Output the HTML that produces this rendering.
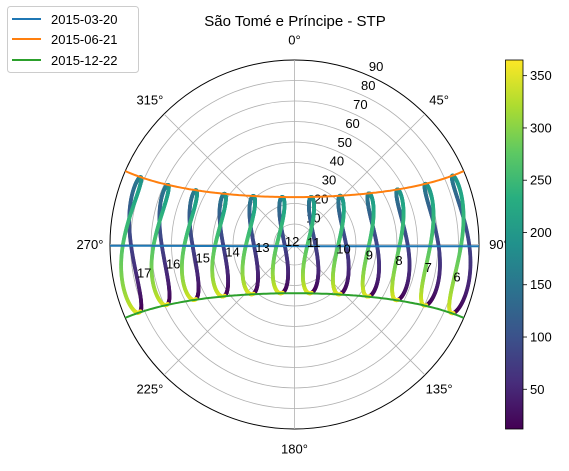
<!DOCTYPE html>
<html><head><meta charset="utf-8"><style>
body{margin:0;background:#fff;}
svg text{font-family:"Liberation Sans","DejaVu Sans",sans-serif;}
</style></head><body>
<svg id="chart" width="569" height="466" viewBox="0 0 569 466">
<defs>
<linearGradient id="vir" x1="0" y1="1" x2="0" y2="0">
<stop offset="0" stop-color="#440154"/><stop offset="0.125" stop-color="#472d7b"/><stop offset="0.25" stop-color="#3b528b"/><stop offset="0.375" stop-color="#2c728e"/><stop offset="0.5" stop-color="#21918c"/><stop offset="0.625" stop-color="#28ae80"/><stop offset="0.75" stop-color="#5ec962"/><stop offset="0.875" stop-color="#addc30"/><stop offset="1" stop-color="#fde725"/>
</linearGradient>
<clipPath id="pc"><circle cx="294.5" cy="244.5" r="184.5"/></clipPath>
</defs>
<text x="295" y="26" font-size="15" text-anchor="middle">São Tomé e Príncipe - STP</text>
<g id="grid"></g>
<g id="marks" clip-path="url(#pc)"></g>
<g id="labels"></g>
<g id="cbar"></g>
<g>
<rect x="7.5" y="6.5" width="131" height="66" rx="3" fill="#fff" stroke="#ccc"/>
<line x1="12" y1="19" x2="41" y2="19" stroke="#1f77b4" stroke-width="2"/>
<text x="51" y="24" font-size="13">2015-03-20</text>
<line x1="12" y1="39" x2="41" y2="39" stroke="#ff7f0e" stroke-width="2"/>
<text x="51" y="44" font-size="13">2015-06-21</text>
<line x1="12" y1="60" x2="41" y2="60" stroke="#2ca02c" stroke-width="2"/>
<text x="51" y="65" font-size="13">2015-12-22</text>
</g>
</svg>
<script>
const LAT = 0.336, LON = 6.727;
const hours = [5,6,7,8,9,10,11,12,13,14,15,16,17,18,19];
const pathDays = [79, 172, 356];
const pathColors = ['#1f77b4','#ff7f0e','#2ca02c'];
const radialTicks = [10,20,30,40,50,60,70,80,90];
const angleTicks = [0,45,90,135,180,225,270,315];
const cbarTicks = [50,100,150,200,250,300,350];
const cMin = 12, cMax = 365;

const NS='http://www.w3.org/2000/svg';
const CX=294.5, CY=244.5, R=184.5, RMAX=90;
function el(t,a,p){const e=document.createElementNS(NS,t);for(const k in a)e.setAttribute(k,a[k]);p.appendChild(e);return e;}
function xy(az,zen){const r=zen/RMAX*R,a=az*Math.PI/180;return [CX+r*Math.sin(a),CY-r*Math.cos(a)];}
function solpos(doy,minutes){
  const g=2*Math.PI/365*(doy-1+(minutes/60-12)/24);
  const eq=229.18*(0.000075+0.001868*Math.cos(g)-0.032077*Math.sin(g)-0.014615*Math.cos(2*g)-0.040849*Math.sin(2*g));
  const d=0.006918-0.399912*Math.cos(g)+0.070257*Math.sin(g)-0.006758*Math.cos(2*g)+0.000907*Math.sin(2*g)-0.002697*Math.cos(3*g)+0.00148*Math.sin(3*g);
  const tst=minutes+eq+4*LON;
  const ha=(tst/4-180)*Math.PI/180, lat=LAT*Math.PI/180;
  const cz=Math.sin(lat)*Math.sin(d)+Math.cos(lat)*Math.cos(d)*Math.cos(ha);
  const zen=Math.acos(Math.max(-1,Math.min(1,cz)))*180/Math.PI;
  let az=Math.atan2(Math.sin(ha),Math.cos(ha)*Math.sin(lat)-Math.tan(d)*Math.cos(lat))*180/Math.PI+180;
  return {zen,az};
}
const VS=['#440154','#482576','#414487','#35608d','#2a788e','#21918c','#22a884','#43bf71','#7ad151','#bddf26','#fde725'];
function vir(v){let t=(v-cMin)/(cMax-cMin);t=Math.max(0,Math.min(1,t));const f=t*10,i=Math.min(9,Math.floor(f)),u=f-i;
  const a=VS[i],b=VS[i+1];const c=k=>Math.round(parseInt(a.substr(k,2),16)*(1-u)+parseInt(b.substr(k,2),16)*u);
  return `rgb(${c(1)},${c(3)},${c(5)})`;}

// grid
const grid=document.getElementById('grid');
radialTicks.forEach(v=>{
  const c=el('circle',{cx:CX,cy:CY,r:v/RMAX*R,fill:'none',stroke:v===90?'#000':'#b0b0b0','stroke-width':v===90?1:0.8},grid);
  
  
});
angleTicks.forEach(a=>{
  const [x,y]=xy(a,RMAX);
  const l=el('line',{x1:CX,y1:CY,x2:x,y2:y,stroke:'#b0b0b0','stroke-width':0.8},grid);
  
  
  const rad=a*Math.PI/180;
  const tx=CX+(R+20)*Math.sin(rad), ty=CY-(R+20)*Math.cos(rad);
  const t=el('text',{x:tx,y:ty+4.5,'font-size':13,'text-anchor':'middle'},grid);
  t.textContent=a+'°';
  
  
});
radialTicks.forEach(v=>{
  const [x,y]=xy(22.5,v);
  const t=el('text',{x:x+11,y:y-3,'font-size':13,'text-anchor':'middle'},grid);
  t.textContent=v;
  
  
});

// analemma scatter
const marks=document.getElementById('marks');
const labels=document.getElementById('labels');
hours.forEach(h=>{
  let best=null;
  for(let d=1;d<=365;d++){
    const p=solpos(d,h*60);
    if(p.zen>=90)continue;
    const [x,y]=xy(p.az,p.zen);
    const c=el('circle',{cx:x.toFixed(2),cy:y.toFixed(2),r:1.9,fill:vir(d)},marks);
    
    
    if(!best||p.zen<best.zen)best=p;
  }
  if(best){
    const [x,y]=xy(best.az,best.zen);
    const t=el('text',{x:x,y:y,'font-size':13},labels);
    t.textContent=h;
    
    
  }
});
// day paths
pathDays.forEach((d,i)=>{
  const pts=[];
  for(let m=0;m<1440;m+=5){const p=solpos(d,m);if(p.zen<=93)pts.push(xy(p.az,p.zen).map(v=>v.toFixed(1)).join(','));}
  const pl=el('polyline',{points:pts.join(' '),fill:'none',stroke:pathColors[i],'stroke-width':2},marks);
  
  
});

// colorbar
const cb=document.getElementById('cbar');
const CT=60,CB=429,CXL=505.5,CW=17.5;
const cr=el('rect',{x:CXL,y:CT,width:CW,height:CB-CT,fill:'url(#vir)',stroke:'#000','stroke-width':0.8},cb);


cbarTicks.forEach(v=>{
  const y=CB-(v-cMin)/(cMax-cMin)*(CB-CT);
  const l=el('line',{x1:CXL+CW,y1:y,x2:CXL+CW+4,y2:y,stroke:'#000','stroke-width':0.8},cb);
  
  
  const t=el('text',{x:CXL+CW+7,y:y+4.5,'font-size':13},cb);
  t.textContent=v;
  
  
});
</script>
</body></html>
